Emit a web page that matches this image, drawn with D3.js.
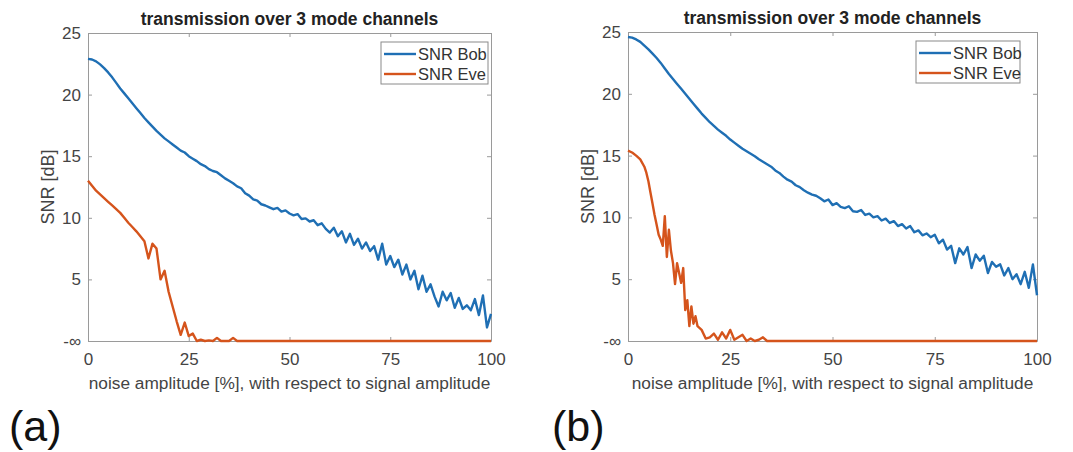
<!DOCTYPE html>
<meta charset="utf-8">
<style>
body { margin: 0; background: #fff; }
svg { display: block; }
text { font-family: "Liberation Sans", Arial, sans-serif; }
</style>
<body>
<svg id="chart" width="1073" height="452"></svg>
<script src="https://cdn.jsdelivr.net/npm/d3@7"></script>
<script>

// noise amplitude in % (shared by the Bob curves and panel (a) Eve)
var noisePct = d3.range(0, 101, 1);

// panel (a): SNR in dB, 0 stands for -inf
var bobA = [22.9,22.85,22.7,22.45,22.15,21.8,21.4,20.95,20.5,20.1,
  19.7,19.3,18.9,18.5,18.1,17.75,17.4,17.05,16.75,16.45,
  16.2,15.95,15.7,15.45,15.3,15.0,14.8,14.6,14.35,14.2,
  13.95,13.8,13.7,13.45,13.2,13.0,12.8,12.55,12.4,12.0,
  11.8,11.5,11.4,11.1,11.0,10.85,10.7,10.8,10.5,10.6,
  10.35,10.2,10.3,9.9,9.95,9.7,9.8,9.4,9.55,9.1,
  8.8,9.2,8.5,8.9,8.0,8.7,7.8,8.3,7.5,8.0,
  7.3,7.7,6.6,7.9,6.2,6.9,6.0,6.6,5.4,6.2,
  5.0,5.7,4.2,5.3,4.0,4.6,3.6,2.8,4.0,3.3,
  3.9,2.7,3.5,2.6,2.9,2.5,3.4,2.1,3.7,1.1,2.2];

var eveA = [13.0,12.6,12.2,11.9,11.6,11.3,11.0,10.7,10.4,10.0,
  9.6,9.25,8.9,8.5,8.1,6.7,7.9,7.5,5.0,5.7,
  4.0,2.8,1.6,0.5,1.5,0.4,0.6,0,0.1,0,
  0.05,0,0.25,0,0,0,0.25,0,0,0,
  0,0,0,0,0,0,0,0,0,0,
  0,0,0,0,0,0,0,0,0,0,
  0,0,0,0,0,0,0,0,0,0,
  0,0,0,0,0,0,0,0,0,0,
  0,0,0,0,0,0,0,0,0,0,
  0,0,0,0,0,0,0,0,0,0,0];

// panel (b)
var bobB = [24.6,24.55,24.4,24.2,23.9,23.6,23.25,22.9,22.5,22.05,
  21.6,21.2,20.8,20.4,20.0,19.6,19.2,18.8,18.4,18.05,
  17.7,17.4,17.1,16.85,16.6,16.3,16.05,15.8,15.55,15.35,
  15.15,14.95,14.7,14.5,14.3,14.1,13.8,13.6,13.3,13.05,
  12.9,12.6,12.45,12.2,12.0,11.85,11.75,11.55,11.3,11.45,
  11.0,11.15,10.85,10.75,10.9,10.5,10.45,10.6,10.2,10.3,
  10.0,10.1,9.75,9.9,9.55,9.7,9.3,9.45,9.1,9.3,
  8.8,8.95,8.55,8.7,8.4,8.6,7.9,8.2,7.4,7.7,
  6.3,7.5,7.0,7.6,5.9,7.0,6.5,6.9,5.5,6.4,
  6.0,6.2,5.3,5.9,5.0,5.4,4.6,5.6,4.3,6.2,3.7];

var eveBPct = [0,1,2,3,4,4.5,5,5.5,6,6.5,7,7.5,8,8.5,9,9.5,10,10.5,11,11.5,
  12,12.5,13,13.5,14,14.5,15,15.5,16,16.5,17,18,19,20,21,22,23,24,25,26,
  27,28,29,30,31,32,33,34,100];
var eveB = [15.4,15.25,15.0,14.7,14.1,13.6,12.9,12.0,11.1,10.2,9.4,8.6,8.2,7.7,10.1,6.8,9.0,7.3,6.3,4.6,
  6.3,5.5,4.7,5.9,2.5,3.3,1.2,2.8,1.4,2.0,1.2,0.9,0.2,0.3,0.6,0.1,0.7,0.2,0.9,0.1,
  0.3,0.5,0,0.2,0,0.1,0.3,0,0];

var yTicks = [0, 5, 10, 15, 20, 25];
var xTicks = [0, 25, 50, 75, 100];

var blue = "#1f6fb4", orange = "#d5541c";

var svg = d3.select("#chart");
svg.append("rect").attr("width", 1073).attr("height", 452).attr("fill", "#fff");

function drawPanel(box, bob, evePct, eve, letter) {
  var x = d3.scaleLinear().domain([0, 100]).range([box.left, box.right]);
  var y = d3.scaleLinear().domain([0, 25]).range([box.bottom, box.top]);
  var g = svg.append("g");

  // ticks pointing inward on all four sides
  var fmtY = function(d) { return d === 0 ? "-\u221e" : d; };
  var left = g.append("g").attr("transform", "translate(" + box.left + ",0)")
    .call(d3.axisLeft(y).tickValues(yTicks).tickFormat(fmtY).tickSizeInner(-4).tickSizeOuter(0).tickPadding(7));
  var bottom = g.append("g").attr("transform", "translate(0," + box.bottom + ")")
    .call(d3.axisBottom(x).tickValues(xTicks).tickSizeInner(-4).tickSizeOuter(0).tickPadding(12));
  var right = g.append("g").attr("transform", "translate(" + box.right + ",0)")
    .call(d3.axisRight(y).tickValues(yTicks).tickFormat("").tickSizeInner(-4).tickSizeOuter(0));
  var top = g.append("g").attr("transform", "translate(0," + box.top + ")")
    .call(d3.axisTop(x).tickValues(xTicks).tickFormat("").tickSizeInner(-4).tickSizeOuter(0));

  [left, bottom, right, top].forEach(function(a) {
    a.selectAll("path, line").attr("stroke", "#9a9a9a");
    a.selectAll("text").attr("fill", "#444").style("font-size", "17px")
      .style("font-family", "'Liberation Sans', Arial, sans-serif");
  });

  var line = d3.line().x(function(d) { return x(d[0]); }).y(function(d) { return y(d[1]); });

  g.append("path")
    .datum(noisePct.map(function(p, i) { return [p, bob[i]]; }))
    .attr("fill", "none").attr("stroke", blue).attr("stroke-width", 2.4)
    .attr("stroke-linejoin", "round").attr("d", line);
  g.append("path")
    .datum(evePct.map(function(p, i) { return [p, eve[i]]; }))
    .attr("fill", "none").attr("stroke", orange).attr("stroke-width", 2.4)
    .attr("stroke-linejoin", "round").attr("d", line);

  // title and axis labels
  var cx = (box.left + box.right) / 2;
  g.append("text").attr("x", cx).attr("y", box.top - 8).attr("text-anchor", "middle")
    .style("font-size", "17.5px").style("font-weight", "bold").attr("fill", "#222")
    .text("transmission over 3 mode channels");
  g.append("text").attr("x", cx).attr("y", box.bottom + 48).attr("text-anchor", "middle")
    .style("font-size", "17.3px").attr("fill", "#444")
    .text("noise amplitude [%], with respect to signal amplitude");
  g.append("text").attr("transform", "translate(" + (box.left - 34) + "," + ((box.top + box.bottom) / 2) + ") rotate(-90)")
    .attr("text-anchor", "middle").style("font-size", "18px").attr("fill", "#444")
    .text("SNR [dB]");

  // legend
  var lg = g.append("g").attr("transform", "translate(" + box.legX + "," + (box.top + 9) + ")");
  lg.append("rect").attr("width", box.legW).attr("height", 42)
    .attr("fill", "#fff").attr("stroke", "#8a8a8a").attr("stroke-width", 1);
  [["SNR Bob", blue], ["SNR Eve", orange]].forEach(function(item, i) {
    var yy = 12 + i * 20;
    lg.append("line").attr("x1", 3).attr("x2", 35).attr("y1", yy).attr("y2", yy)
      .attr("stroke", item[1]).attr("stroke-width", 2.4);
    lg.append("text").attr("x", 37).attr("y", yy + 6).style("font-size", "16.5px")
      .attr("fill", "#333").text(item[0]);
  });

  svg.append("text").attr("x", box.letterX).attr("y", 441)
    .style("font-size", "43px").attr("fill", "#111").text(letter);
}

drawPanel({left: 88, right: 491, top: 33, bottom: 341, legX: 381, legW: 107, letterX: 9},
  bobA, noisePct, eveA, "(a)");
drawPanel({left: 628, right: 1037, top: 32, bottom: 341, legX: 916, legW: 104, letterX: 552},
  bobB, eveBPct, eveB, "(b)");

</script>
</body>
